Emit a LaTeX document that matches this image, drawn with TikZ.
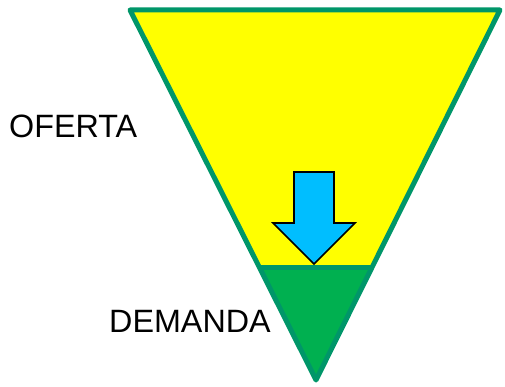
\documentclass[tikz,border=0pt]{standalone}
\usepackage{fontspec}
\setmainfont{Liberation Sans}
\usetikzlibrary{calc}
\definecolor{edgegreen}{RGB}{0,150,105}
\definecolor{demgreen}{RGB}{0,176,80}
\definecolor{arrowblue}{RGB}{0,190,255}
\definecolor{supplyyellow}{RGB}{255,255,0}

\begin{document}
\begin{tikzpicture}[
    x=1pt, y=-1pt,
    every node/.style={font=\fontsize{32.3}{36}\selectfont, inner sep=0pt},
    funnel/.style={draw=edgegreen, line width=5pt, line join=round},
    downarrow/.style={draw=black, line width=1.6pt, fill=arrowblue, line join=miter}
]
\useasboundingbox (0,0) rectangle (505,387);
% corners of the funnel
\coordinate (tl) at (130,10);
\coordinate (tr) at (500,10);
\coordinate (apex) at (316,380);
\coordinate (dl) at ($(tl)!0.697!(apex)$);
\coordinate (dr) at ($(tr)!0.697!(apex)$);
% fills
\fill[supplyyellow] (tl) -- (tr) -- (apex) -- cycle;
\fill[demgreen] (dl) -- (dr) -- (apex) -- cycle;
\draw[funnel] (tl) -- (tr) -- (apex) -- cycle;
\draw[funnel] (dl) -- (dr);
% arrow
\draw[downarrow] (294,172) -- (334,172) -- (334,223) -- (355,223) -- (314,264)
    -- (273,223) -- (294,223) -- cycle;
% labels
\node[anchor=west] (oferta) at (9,126) {OFERTA};
\node[anchor=west] (demanda) at (109,321) {DEMANDA};
\end{tikzpicture}
\end{document}
